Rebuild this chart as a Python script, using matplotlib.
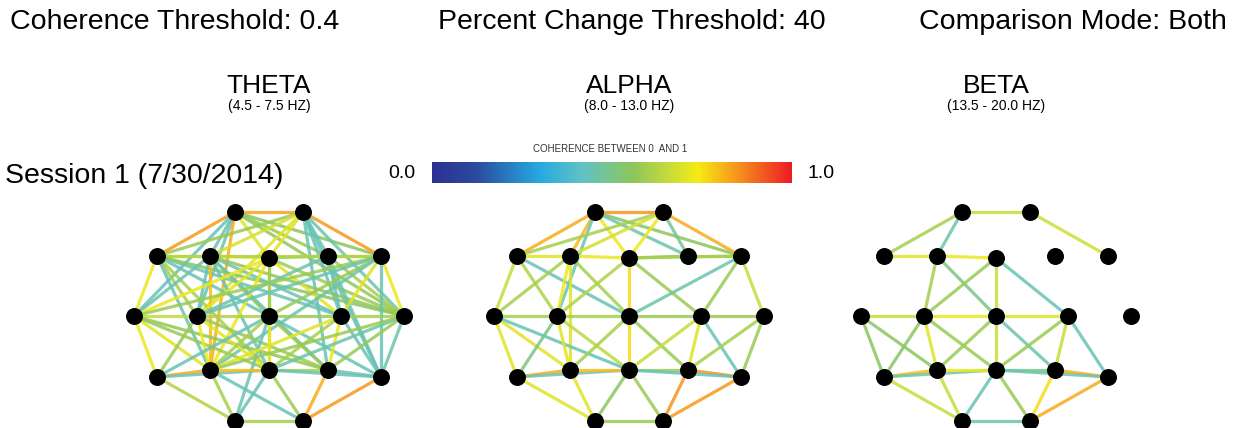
import matplotlib.pyplot as plt
import matplotlib.colors as mcolors
import numpy as np

plt.rcParams['font.family'] = ['Liberation Sans', 'DejaVu Sans']

# settings shown in header
coh_threshold = 0.4
pct_threshold = 40
mode = "Both"
session = "Session 1 (7/30/2014)"

bands = ["THETA", "ALPHA", "BETA"]
band_ranges = ["(4.5 - 7.5 HZ)", "(8.0 - 13.0 HZ)", "(13.5 - 20.0 HZ)"]

# electrode layout (10-20 montage, pixels relative to Cz)
electrodes = {
    'Fp1': (-34, -104), 'Fp2': (34, -104),
    'F7': (-112, -60), 'F3': (-59, -60), 'Fz': (0, -58), 'F4': (59, -60), 'F8': (112, -60),
    'T3': (-135, 0), 'C3': (-72, 0), 'Cz': (0, 0), 'C4': (72, 0), 'T4': (135, 0),
    'T5': (-112, 61), 'P3': (-59, 54), 'Pz': (0, 54), 'P4': (59, 54), 'T6': (112, 61),
    'O1': (-34, 105), 'O2': (34, 105),
}

# coherence edges per band (pair, value)
theta_edges = [
    ('Fp1', 'Fp2', 0.83), ('Fp1', 'F7', 0.84), ('Fp1', 'F3', 0.45), ('Fp1', 'C3', 0.44),
    ('Fp1', 'Fz', 0.7), ('Fp1', 'F4', 0.58), ('Fp1', 'F8', 0.55), ('Fp1', 'T3', 0.43),
    ('Fp1', 'P3', 0.82), ('Fp1', 'T4', 0.57),
    ('Fp2', 'F7', 0.58), ('Fp2', 'F3', 0.68), ('Fp2', 'Fz', 0.7), ('Fp2', 'F4', 0.45),
    ('Fp2', 'F8', 0.84), ('Fp2', 'C4', 0.44), ('Fp2', 'T4', 0.45), ('Fp2', 'P4', 0.44),
    ('Fp2', 'T6', 0.43), ('Fp2', 'C3', 0.7),
    ('F7', 'F3', 0.7), ('F3', 'Fz', 0.72), ('Fz', 'F4', 0.6), ('F4', 'F8', 0.66),
    ('F7', 'F8', 0.62), ('F7', 'T3', 0.72), ('F7', 'C3', 0.6), ('F7', 'Cz', 0.44),
    ('F7', 'C4', 0.45), ('F7', 'T4', 0.55), ('F7', 'P3', 0.44), ('F7', 'Pz', 0.6),
    ('F3', 'T3', 0.45), ('F3', 'C3', 0.44), ('F3', 'P3', 0.8), ('F3', 'Cz', 0.58),
    ('F3', 'C4', 0.44), ('F3', 'T4', 0.57), ('F3', 'Pz', 0.44), ('F3', 'P4', 0.45),
    ('Fz', 'T3', 0.72), ('Fz', 'C3', 0.7), ('Fz', 'Cz', 0.58), ('Fz', 'Pz', 0.6),
    ('Fz', 'C4', 0.7), ('Fz', 'T4', 0.58), ('Fz', 'P3', 0.72),
    ('F4', 'C3', 0.45), ('F4', 'C4', 0.44), ('F4', 'T4', 0.6), ('F4', 'T6', 0.44),
    ('F8', 'T3', 0.58), ('F8', 'C3', 0.44), ('F8', 'Cz', 0.58), ('F8', 'C4', 0.7),
    ('F8', 'T4', 0.72), ('F8', 'P3', 0.45), ('F8', 'T6', 0.44),
    ('T3', 'C3', 0.65), ('C3', 'Cz', 0.62), ('Cz', 'C4', 0.58), ('C4', 'T4', 0.6),
    ('T3', 'T5', 0.72), ('T3', 'P3', 0.7), ('T3', 'Pz', 0.58), ('T3', 'P4', 0.57),
    ('C3', 'T5', 0.58), ('C3', 'P3', 0.72), ('C3', 'Pz', 0.7), ('C3', 'P4', 0.58),
    ('Cz', 'T5', 0.44), ('Cz', 'P3', 0.6), ('Cz', 'Pz', 0.72), ('Cz', 'P4', 0.58),
    ('Cz', 'T6', 0.44), ('Cz', 'O1', 0.45),
    ('C4', 'P3', 0.7), ('C4', 'Pz', 0.6), ('C4', 'P4', 0.72), ('C4', 'T6', 0.44),
    ('T4', 'T6', 0.45), ('T4', 'P4', 0.58), ('T4', 'Pz', 0.45), ('T4', 'P3', 0.58),
    ('T5', 'P3', 0.82), ('T5', 'Pz', 0.45), ('P3', 'Pz', 0.8), ('Pz', 'P4', 0.6),
    ('P4', 'T6', 0.45), ('Pz', 'T6', 0.44), ('T5', 'O1', 0.62), ('P3', 'O1', 0.6),
    ('P3', 'O2', 0.44), ('Pz', 'O1', 0.44), ('Pz', 'O2', 0.58), ('P4', 'O2', 0.82),
    ('T6', 'O2', 0.84), ('O1', 'O2', 0.6),
]

alpha_edges = [
    ('Fp1', 'Fp2', 0.85), ('Fp1', 'F7', 0.82), ('Fp1', 'F3', 0.8), ('Fp1', 'C3', 0.44),
    ('Fp1', 'Fz', 0.72), ('Fp1', 'F8', 0.55), ('Fp1', 'F4', 0.45),
    ('Fp2', 'F7', 0.6), ('Fp2', 'F3', 0.68), ('Fp2', 'Fz', 0.72), ('Fp2', 'F4', 0.48),
    ('Fp2', 'F8', 0.82),
    ('F7', 'F3', 0.7), ('F3', 'Fz', 0.72), ('Fz', 'F4', 0.58), ('F4', 'F8', 0.6),
    ('Fz', 'F8', 0.6), ('F7', 'Cz', 0.44), ('F7', 'C3', 0.62), ('F7', 'T3', 0.66),
    ('F3', 'T3', 0.6), ('F3', 'C3', 0.72), ('F3', 'P3', 0.7), ('F3', 'Cz', 0.6),
    ('Fz', 'C3', 0.62), ('Fz', 'Cz', 0.76), ('Fz', 'C4', 0.58),
    ('F8', 'Cz', 0.45), ('F8', 'C4', 0.58), ('F8', 'T4', 0.66),
    ('T3', 'C3', 0.6), ('C3', 'Cz', 0.6), ('Cz', 'C4', 0.58), ('C4', 'T4', 0.58),
    ('T3', 'T5', 0.7), ('T3', 'P3', 0.7), ('T3', 'Pz', 0.44),
    ('C3', 'T5', 0.5), ('C3', 'P3', 0.7), ('C3', 'Pz', 0.64),
    ('Cz', 'P3', 0.6), ('Cz', 'Pz', 0.76), ('Cz', 'P4', 0.58),
    ('C4', 'Pz', 0.66), ('C4', 'P4', 0.7), ('C4', 'T6', 0.44),
    ('T4', 'T6', 0.58), ('T4', 'P4', 0.6),
    ('T5', 'P3', 0.82), ('T5', 'Pz', 0.45), ('P3', 'Pz', 0.8), ('Pz', 'P4', 0.58),
    ('P4', 'T6', 0.85), ('Pz', 'T6', 0.44),
    ('T5', 'O1', 0.7), ('P3', 'O1', 0.7), ('Pz', 'O1', 0.55), ('Pz', 'O2', 0.58),
    ('P4', 'O2', 0.85), ('T6', 'O2', 0.84), ('O1', 'O2', 0.58),
]

beta_edges = [
    ('Fp1', 'Fp2', 0.66), ('Fp2', 'F8', 0.67), ('Fp1', 'F7', 0.6), ('Fp1', 'F3', 0.45),
    ('F7', 'F3', 0.7), ('F3', 'Fz', 0.72), ('Fz', 'C4', 0.44), ('F3', 'C3', 0.6),
    ('F3', 'Cz', 0.5), ('Fz', 'C3', 0.58), ('Fz', 'Cz', 0.66),
    ('T3', 'C3', 0.66), ('C3', 'Cz', 0.72), ('Cz', 'C4', 0.7),
    ('T3', 'T5', 0.55), ('T3', 'P3', 0.55), ('C3', 'T5', 0.55), ('C3', 'P3', 0.7),
    ('C3', 'Pz', 0.58), ('Cz', 'P3', 0.58), ('Cz', 'Pz', 0.66), ('Cz', 'P4', 0.45),
    ('C4', 'Pz', 0.58), ('C4', 'P4', 0.66), ('C4', 'T6', 0.44),
    ('T5', 'P3', 0.8), ('T5', 'Pz', 0.45), ('P3', 'Pz', 0.72), ('Pz', 'P4', 0.5),
    ('P4', 'T6', 0.82), ('Pz', 'T6', 0.45),
    ('T5', 'O1', 0.66), ('P3', 'O1', 0.66), ('Pz', 'O1', 0.44), ('Pz', 'O2', 0.58),
    ('P4', 'O2', 0.76), ('T6', 'O2', 0.82), ('O1', 'O2', 0.45),
]

all_edges = [theta_edges, alpha_edges, beta_edges]

cmap = mcolors.LinearSegmentedColormap.from_list('coh', [
    (0.0, '#2e3192'), (0.12, '#2b4aa0'), (0.3, '#27aae1'), (0.42, '#62c3c4'),
    (0.56, '#8dc65a'), (0.66, '#c8dc3a'), (0.74, '#f6eb14'), (0.85, '#f7941d'),
    (1.0, '#ed1c24')])

fig = plt.figure(figsize=(12.37, 4.28), dpi=100)
ax = fig.add_axes([0, 0, 1, 1])
ax.set_xlim(0, 1237)
ax.set_ylim(428, 0)
ax.axis('off')

# header
ax.text(10, 22, f"Coherence Threshold: {coh_threshold}", fontsize=20.5, va='center', ha='left')
ax.text(632, 22, f"Percent Change Threshold: {pct_threshold}", fontsize=20.5, va='center', ha='center')
ax.text(1227, 22, f"Comparison Mode: {mode}", fontsize=20.5, va='center', ha='right')
ax.text(5, 176, session, fontsize=20.5, va='center', ha='left')

centers = [(269, 316), (629, 316), (996, 316)]
for (cx, cy), name, rng, edges in zip(centers, bands, band_ranges, all_edges):
    ax.text(cx, 86, name, fontsize=19, ha='center', va='center')
    ax.text(cx, 106, rng, fontsize=10, ha='center', va='center')
    for a, b, v in edges:
        xa, ya = electrodes[a]
        xb, yb = electrodes[b]
        ax.plot([cx + xa, cx + xb], [cy + ya, cy + yb], color=cmap(v),
                lw=2.3, alpha=0.85, solid_capstyle='round', zorder=2)
    xs = [cx + p[0] for p in electrodes.values()]
    ys = [cy + p[1] for p in electrodes.values()]
    ax.scatter(xs, ys, s=125, color='black', zorder=5)

# colorbar
grad = np.linspace(0, 1, 256).reshape(1, -1)
ax.imshow(grad, cmap=cmap, extent=[432, 792, 183, 163], aspect='auto', zorder=1)
ax.text(402, 173, "0.0", fontsize=14, ha='center', va='center')
ax.text(821, 173, "1.0", fontsize=14, ha='center', va='center')
ax.text(610, 149, "COHERENCE BETWEEN 0  AND 1", fontsize=7, ha='center', va='center', color='#333333')

fig.savefig('out.png', dpi=100)
